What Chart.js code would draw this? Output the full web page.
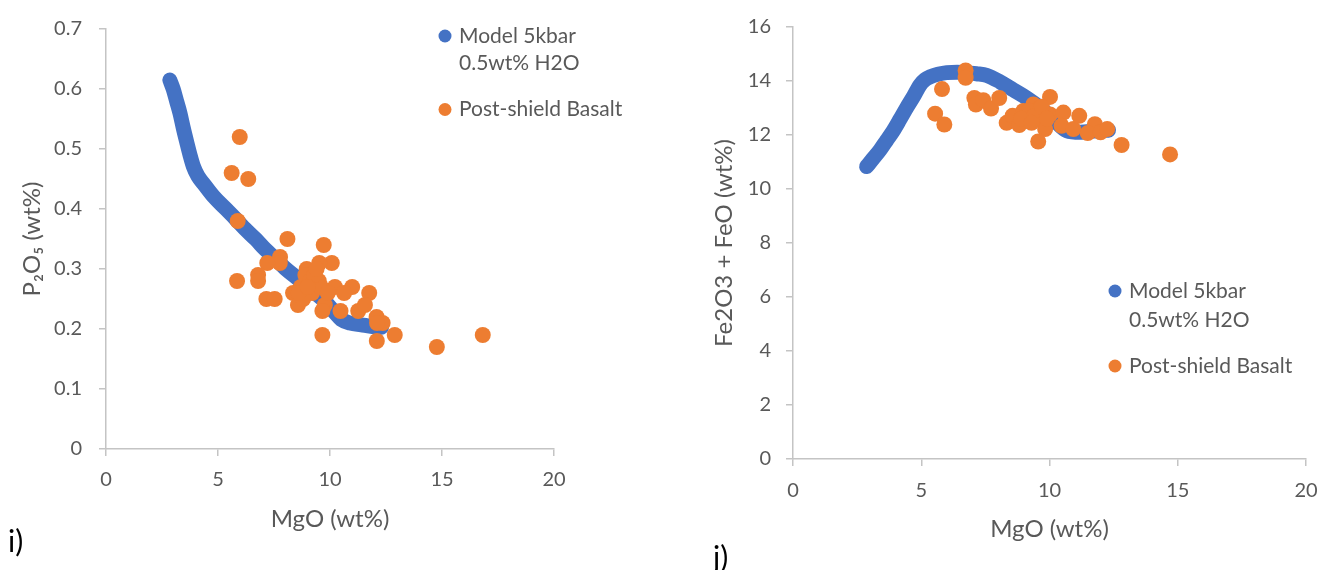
<!DOCTYPE html>
<html>
<head>
<meta charset="utf-8">
<script src="https://cdn.jsdelivr.net/npm/chart.js@4.4.1/dist/chart.umd.min.js"></script>
<style>
  body { margin: 0; background: #fff; }
  #page { position: relative; width: 1333px; height: 570px; overflow: hidden; font-family: Lato, sans-serif; }
  .panel { position: absolute; top: 0; }
  .tag { position: absolute; font: 30px Lato, sans-serif; color: #000; line-height: 34px; }
</style>
</head>
<body>
<div id="page">
  <div class="panel" style="left:0px"><canvas id="chartI" width="660" height="570"></canvas></div>
  <div class="panel" style="left:680px"><canvas id="chartJ" width="653" height="570"></canvas></div>
  <div class="tag" style="left:8px;top:523px">i)</div>
  <div class="tag" style="left:713px;top:539px">j)</div>
</div>
<script>
// model path, 5 kbar with 0.5 wt% H2O
const modelMgO_P = [2.85, 3.0, 3.15, 3.3, 3.45, 3.6, 3.75, 3.9, 4.1, 4.4, 4.8, 5.3, 5.8, 6.2, 6.7, 7.1, 7.6, 8.0, 8.5, 8.9, 9.3, 9.8, 10.2, 10.5, 10.9, 11.4, 11.9, 12.3];
const modelP2O5 = [0.615, 0.600, 0.580, 0.560, 0.535, 0.512, 0.490, 0.471, 0.455, 0.440, 0.421, 0.402, 0.383, 0.367, 0.349, 0.333, 0.316, 0.301, 0.286, 0.273, 0.261, 0.245, 0.228, 0.216, 0.210, 0.207, 0.204, 0.203];

const modelMgO_Fe = [2.87, 3.1, 3.39, 3.65, 3.91, 4.17, 4.43, 4.7, 4.95, 5.15, 5.34, 5.65, 5.99, 6.4, 6.77, 7.15, 7.55, 8.07, 8.59, 9.11, 9.63, 10.15, 10.67, 11.19, 11.84, 12.3];
const modelFeOt = [10.83, 11.1, 11.44, 11.8, 12.16, 12.58, 13.01, 13.43, 13.85, 14.05, 14.15, 14.25, 14.31, 14.32, 14.31, 14.27, 14.21, 13.97, 13.67, 13.37, 13.01, 12.58, 12.16, 12.10, 12.16, 12.18];

// post-shield basalt analyses
const basaltMgO_P = [5.97, 5.61, 6.35, 5.88, 8.10, 9.72, 7.77, 7.76, 7.20, 10.08, 9.52, 8.96, 6.79, 6.79, 5.85, 10.22, 10.99, 10.63, 11.75, 8.35, 7.16, 7.53, 8.57, 9.77, 9.66, 10.47, 11.26, 11.56, 12.08, 12.35, 12.1, 12.89, 9.66, 12.09, 14.77, 16.82, 8.7, 8.9, 9.1, 9.3, 9.5, 9.2, 8.8, 9.6, 9.3, 8.6, 9.0, 9.4, 9.9];
const basaltP2O5 = [0.52, 0.46, 0.45, 0.38, 0.35, 0.34, 0.32, 0.31, 0.31, 0.31, 0.31, 0.30, 0.29, 0.28, 0.28, 0.27, 0.27, 0.26, 0.26, 0.26, 0.25, 0.25, 0.24, 0.24, 0.23, 0.23, 0.23, 0.24, 0.22, 0.21, 0.21, 0.19, 0.19, 0.18, 0.17, 0.19, 0.27, 0.29, 0.28, 0.27, 0.28, 0.26, 0.25, 0.27, 0.29, 0.26, 0.27, 0.30, 0.26];

const basaltMgO_Fe = [6.73, 6.73, 5.81, 5.54, 5.90, 7.07, 7.13, 7.42, 7.72, 8.04, 10.02, 8.33, 8.56, 8.82, 8.98, 9.37, 9.56, 9.11, 9.50, 9.83, 9.56, 10.02, 10.54, 10.47, 10.93, 11.16, 11.77, 11.49, 11.99, 12.25, 12.81, 14.70, 9.2, 9.4, 9.7, 8.9, 9.3, 9.9];
const basaltFeOt = [14.39, 14.12, 13.70, 12.79, 12.39, 13.37, 13.13, 13.29, 12.98, 13.37, 13.41, 12.45, 12.71, 12.37, 12.89, 13.13, 12.95, 12.58, 12.58, 12.22, 11.76, 12.76, 12.83, 12.34, 12.22, 12.71, 12.40, 12.07, 12.10, 12.22, 11.63, 11.28, 12.9, 12.7, 13.05, 12.6, 12.45, 12.6];

const seriesNames = [["Model 5kbar", "0.5wt% H2O"], ["Post-shield Basalt"]];

const BLUE = "#4472C4";
const ORANGE = "#ED7D31";
const TEXT = "#595959";
const AXIS = "#c4c4c4";

function toPoints(xs, ys) {
  return xs.map((x, i) => ({ x: x, y: ys[i] }));
}

// legend drawn inside the plot, Excel style, with wrapped label lines
const insideLegend = {
  id: "insideLegend",
  afterDraw(chart, args, opts) {
    const ctx = chart.ctx;
    let y = opts.y;
    ctx.save();
    ctx.font = opts.font;
    ctx.textBaseline = "middle";
    ctx.textAlign = "left";
    chart.data.datasets.forEach((ds, i) => {
      const lines = seriesNames[i];
      ctx.fillStyle = ds.legendColor;
      ctx.beginPath();
      ctx.arc(opts.x, y, 6.5, 0, Math.PI * 2);
      ctx.fill();
      ctx.fillStyle = TEXT;
      lines.forEach((line, k) => ctx.fillText(line, opts.x + 14, y + k * opts.lineGap));
      y += (lines.length - 1) * opts.lineGap + opts.entryGap;
    });
    ctx.restore();
  }
};

function makeChart(id, cfg) {
  var ctx = document.getElementById(id).getContext("2d");
  return new Chart(ctx, {
    type: "scatter",
    data: {
      datasets: [{
        label: seriesNames[0].join(" "),
        data: toPoints(cfg.modelX, cfg.modelY),
        showLine: true,
        borderColor: BLUE,
        legendColor: BLUE,
        borderWidth: 15,
        borderCapStyle: "round",
        borderJoinStyle: "round",
        cubicInterpolationMode: "monotone",
        pointRadius: 0,
        order: 1
      }, {
        label: seriesNames[1].join(" "),
        data: toPoints(cfg.basaltX, cfg.basaltY),
        showLine: false,
        backgroundColor: ORANGE,
        legendColor: ORANGE,
        pointRadius: 8,
        pointBorderWidth: 0,
        order: 0
      }]
    },
    options: {
      responsive: false,
      animation: false,
      devicePixelRatio: 1,
      events: [],
      layout: { padding: cfg.padding },
      scales: {
        x: {
          type: "linear",
          min: 0, max: 20,
          afterFit: (s) => { s.height = cfg.xHeight; },
          grid: { display: true, drawOnChartArea: false, drawTicks: true, tickLength: 7, color: AXIS, lineWidth: 1.5 },
          border: { display: true, color: AXIS, width: 1.5 },
          ticks: { stepSize: 5, padding: cfg.xTickPad, color: TEXT, font: { family: "Lato", size: 20 } },
          title: { display: true, text: "MgO (wt%)", color: TEXT, font: { family: "Lato", size: 24 }, padding: { top: 0, bottom: cfg.xTitlePad } }
        },
        y: {
          type: "linear",
          min: 0, max: cfg.yMax,
          afterFit: (s) => { s.width = cfg.yWidth; },
          grid: { display: true, drawOnChartArea: false, drawTicks: true, tickLength: 7, color: AXIS, lineWidth: 1.5 },
          border: { display: true, color: AXIS, width: 1.5 },
          ticks: { stepSize: cfg.yStep, padding: cfg.yTickPad, color: TEXT, font: { family: "Lato", size: 20 } },
          title: { display: true, text: cfg.yTitle, color: TEXT, font: { family: "Lato, 'DejaVu Sans'", size: 24 }, padding: { top: cfg.yTitlePad, bottom: 0 } }
        }
      },
      plugins: {
        legend: { display: false },
        tooltip: { enabled: false },
        insideLegend: cfg.legend
      }
    },
    plugins: [insideLegend]
  });
}

document.addEventListener("DOMContentLoaded", function () {
  makeChart("chartI", {
    modelX: modelMgO_P, modelY: modelP2O5,
    basaltX: basaltMgO_P, basaltY: basaltP2O5,
    yMax: 0.7, yStep: 0.1, yTitle: "P\u2082O\u2085 (wt%)",
    padding: { top: 20, right: 106, bottom: 0, left: 0 },
    xHeight: 121, yWidth: 106,
    xTickPad: 12, yTickPad: 17, xTitlePad: 36, yTitlePad: 18,
    legend: { x: 445, y: 36, lineGap: 27.5, entryGap: 46, font: "21px Lato" }
  });

  makeChart("chartJ", {
    modelX: modelMgO_Fe, modelY: modelFeOt,
    basaltX: basaltMgO_Fe, basaltY: basaltFeOt,
    yMax: 16, yStep: 2, yTitle: "Fe2O3 + FeO (wt%)",
    padding: { top: 18, right: 27, bottom: 0, left: 0 },
    xHeight: 111, yWidth: 113,
    xTickPad: 13, yTickPad: 15, xTitlePad: 26, yTitlePad: 30,
    legend: { x: 435, y: 291, lineGap: 29, entryGap: 46, font: "21px Lato" }
  });
});
</script>
</body>
</html>
